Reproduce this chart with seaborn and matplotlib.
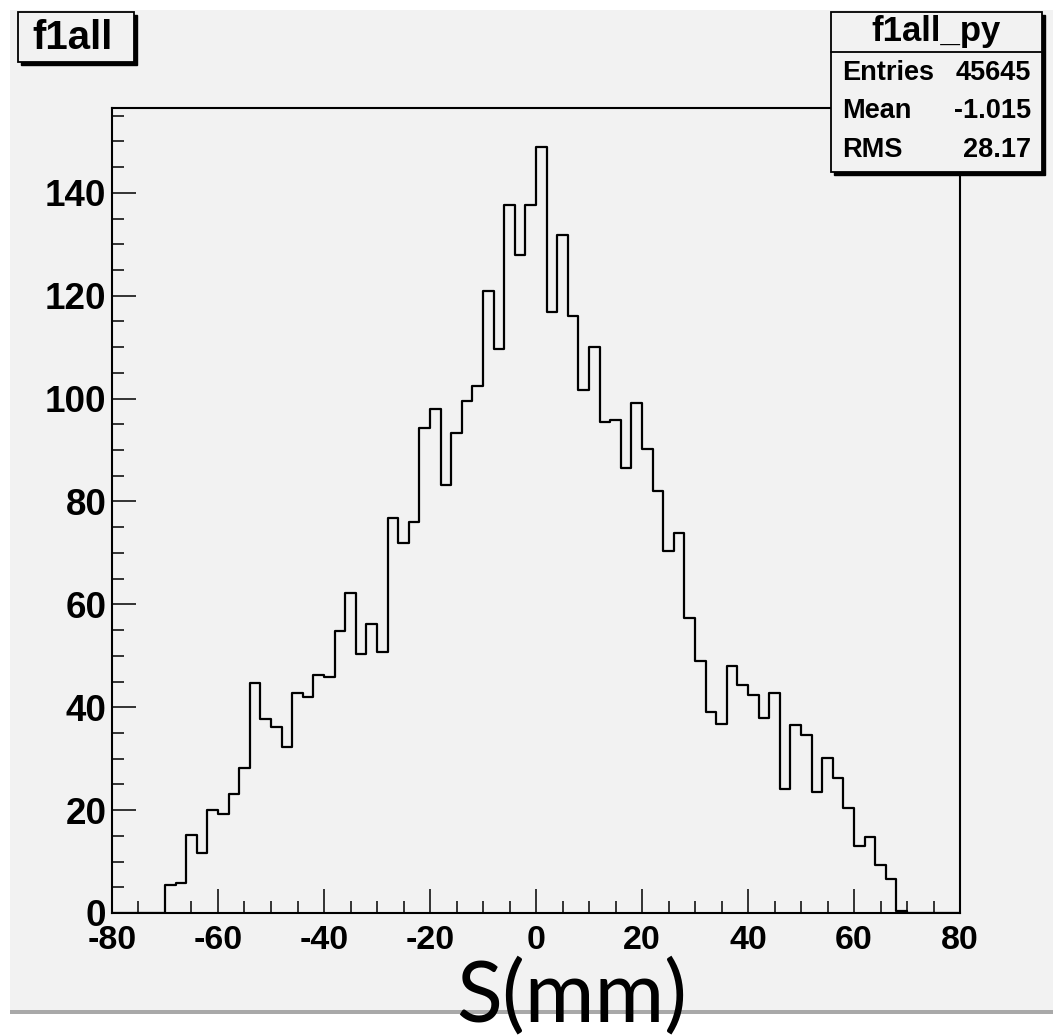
import numpy as np
import pandas as pd
import matplotlib
matplotlib.use("Agg")
import matplotlib.pyplot as plt
from matplotlib.patches import Rectangle
from matplotlib.lines import Line2D
import seaborn as sns

# ---- histogram content: 80 bins of 2 mm from -80 to 80 ----
bin_width = 2
bin_range = (-80, 80)
counts = [
    0, 0, 0, 0, 0,                                   # -80 .. -70
    5.4, 5.8, 15.1, 11.6, 20.0, 19.2, 23.2, 28.2,    # -70 .. -54
    44.7, 37.8, 36.2, 32.2, 42.8, 41.9, 46.2,        # -54 .. -40
    45.9, 54.9, 62.2, 50.4, 56.2, 50.8, 76.8,        # -40 .. -26
    71.9, 76.0, 94.2,                                # -26 .. -20
    97.9, 83.2, 93.4, 99.5, 102.4, 121.0, 109.6,     # -20 .. -6
    137.6, 127.9, 137.6,                             # -6 .. 0
    149.0, 116.9, 131.8, 116.1, 101.6, 110.1, 95.5,  # 0 .. 14
    95.9, 86.6, 99.1,                                # 14 .. 20
    90.2, 82.0, 70.3, 73.9, 57.4, 48.9, 39.0,        # 20 .. 34
    36.7, 48.0, 44.3,                                # 34 .. 40
    42.3, 38.0, 42.7, 24.1, 36.6, 34.6, 23.6,        # 40 .. 54
    30.2, 26.2, 20.5,                                # 54 .. 60
    13.1, 14.7, 9.4, 6.6, 0.4,                       # 60 .. 70
    0, 0, 0, 0, 0,                                   # 70 .. 80
]
x_ticks = [-80, -60, -40, -20, 0, 20, 40, 60, 80]
y_ticks = [0, 20, 40, 60, 80, 100, 120, 140]

hist_name = "f1all"
stats_title = "f1all_py"
stats_labels = ["Entries", "Mean", "RMS"]
stats_values = ["45645", "-1.015", "28.17"]
axis_title = "S(mm)"

bin_centers = np.arange(bin_range[0], bin_range[1], bin_width) + bin_width / 2
df = pd.DataFrame({"s": bin_centers, "w": np.asarray(counts, dtype=float)})

sns.set_style("ticks")
plt.rcParams["font.family"] = ["Liberation Sans", "DejaVu Sans"]
plt.rcParams["text.color"] = "black"
plt.rcParams["xtick.labelcolor"] = "black"
plt.rcParams["ytick.labelcolor"] = "black"
plt.rcParams["axes.labelcolor"] = "black"

W, H = 1053, 1036
fig = plt.figure(figsize=(W / 100, H / 100), dpi=100, facecolor="white")

def fx(px):
    return px / W

def fy(py):
    return 1 - py / H

canvas_col = "#f2f2f2"

# canvas background and its bottom shadow edge
fig.patches.append(Rectangle((fx(10), fy(1010)), fx(W - 10), (1010 - 10) / H,
                             transform=fig.transFigure, facecolor=canvas_col,
                             edgecolor="none", zorder=-2))
fig.patches.append(Rectangle((fx(10), fy(1014)), fx(W - 10), 4 / H,
                             transform=fig.transFigure, facecolor="#a9a9a9",
                             edgecolor="none", zorder=-1))

ax = fig.add_axes([fx(112), fy(913), fx(960 - 112), (913 - 108) / H])
ax.set_facecolor(canvas_col)

sns.histplot(data=df, x="s", weights="w", binwidth=bin_width, binrange=bin_range,
             element="step", fill=False, color="black", linewidth=1.6, ax=ax)

ax.set_xlim(-80, 80)
ax.set_ylim(0, 156.5)
ax.set_xlabel("")
ax.set_ylabel("")
ax.set_xticks(x_ticks)
ax.set_yticks(y_ticks)
ax.set_xticks(np.arange(-80, 81, 5), minor=True)
ax.set_yticks(np.arange(0, 156, 5), minor=True)
ax.set_xticklabels([str(v) for v in x_ticks])
ax.set_yticklabels([str(v) for v in y_ticks])

for sp in ax.spines.values():
    sp.set_visible(True)
    sp.set_linewidth(1.5)
    sp.set_color("black")

ax.tick_params(axis="both", which="major", direction="in", length=17, width=1.1,
               color="black", labelcolor="black", top=False, right=False)
ax.tick_params(axis="both", which="minor", direction="in", length=8.5, width=1.1,
               color="black", top=False, right=False)
ax.tick_params(axis="y", which="major", pad=4.0, labelsize=26.5)
ax.tick_params(axis="x", which="major", pad=8.5, labelsize=24.5)
for lab in ax.get_xticklabels() + ax.get_yticklabels():
    lab.set_fontweight("bold")

# framed label boxes with a drop shadow
def framed_box(x0, y0, x1, y1, shadow=3):
    fig.patches.append(Rectangle((fx(x0 + shadow), fy(y1 + shadow)), (x1 - x0) / W,
                                 (y1 - y0) / H, transform=fig.transFigure,
                                 facecolor="black", edgecolor="black", zorder=4))
    fig.patches.append(Rectangle((fx(x0), fy(y1)), (x1 - x0) / W, (y1 - y0) / H,
                                 transform=fig.transFigure, facecolor=canvas_col,
                                 edgecolor="black", linewidth=1.3, zorder=5))

framed_box(18, 12, 134, 62)
fig.text(fx(73), fy(38), hist_name, ha="center", va="center", fontsize=29,
         fontweight="bold", color="black", zorder=6)

# statistics box
framed_box(831, 12, 1042, 172)
fig.lines.append(Line2D([fx(831), fx(1042)], [fy(52), fy(52)],
                        transform=fig.transFigure, color="black", linewidth=1.3,
                        zorder=6))
fig.text(fx(936), fy(32), stats_title, ha="center", va="center", fontsize=25,
         fontweight="bold", color="black", zorder=6)
row_y = [73, 111, 150]
for lab, val, yy in zip(stats_labels, stats_values, row_y):
    fig.text(fx(842), fy(yy), lab, ha="left", va="center", fontsize=19.5,
             fontweight="bold", color="black", zorder=6)
    fig.text(fx(1031), fy(yy), val, ha="right", va="center", fontsize=19.5,
             fontweight="bold", color="black", zorder=6)

# axis title
fig.text(fx(572), fy(1021), axis_title, ha="center", va="baseline", fontsize=61,
         family=["Lato", "DejaVu Sans"], color="black", zorder=7)

fig.savefig("out.png", dpi=100, facecolor="white")
